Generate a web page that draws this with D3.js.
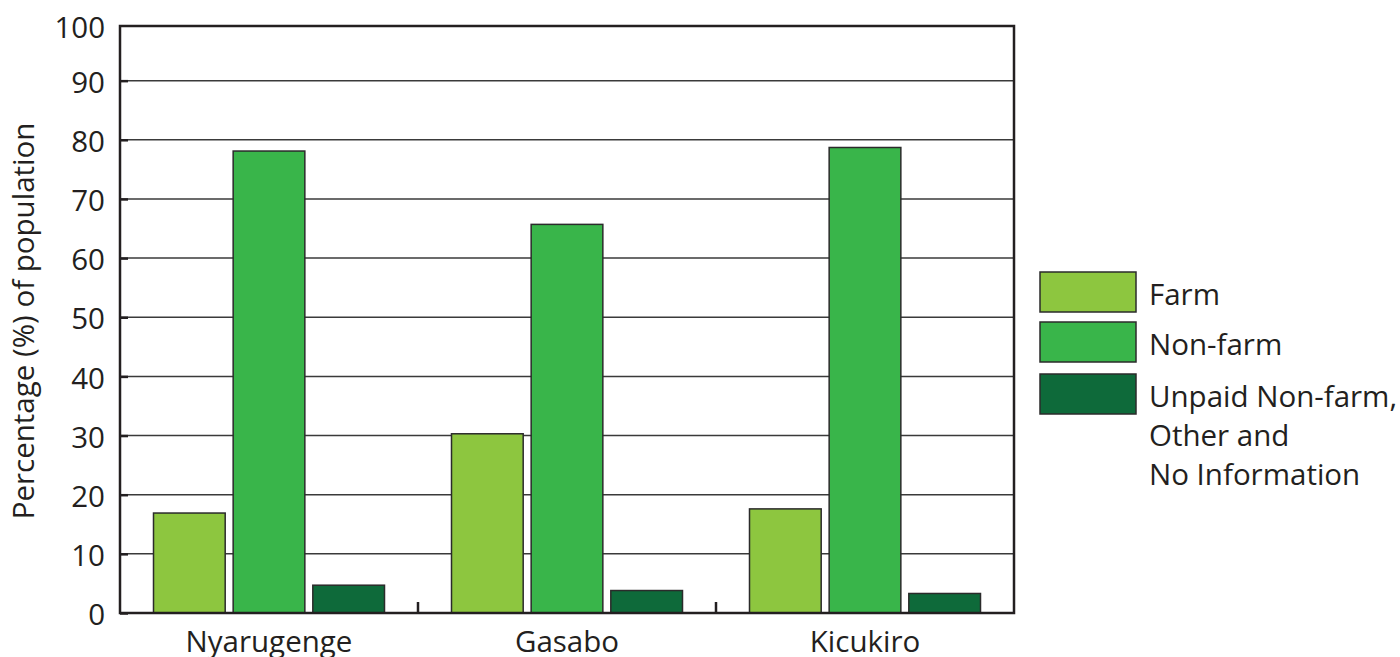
<!DOCTYPE html>
<html><head><meta charset="utf-8">
<script src="https://cdn.jsdelivr.net/npm/d3@7"></script>
<style>body{margin:0;background:#fff}svg{display:block}text{font-family:"Open Sans",sans-serif;fill:#231f20}</style>
</head><body><svg id="c" width="1400" height="657"></svg>
<script>
const categories = ["Nyarugenge", "Gasabo", "Kicukiro"];
const seriesNames = ["Farm", "Non-farm", "Unpaid Non-farm, Other and No Information"];
const legendLines = [["Farm"], ["Non-farm"], ["Unpaid Non-farm,", "Other and", "No Information"]];
const farm = [16.9, 30.3, 17.6];
const nonFarm = [78.1, 65.7, 78.7];
const unpaid = [4.7, 3.8, 3.3];
const yTicks = [0, 10, 20, 30, 40, 50, 60, 70, 80, 90, 100];
const colors = ["#8dc63f", "#39b54a", "#0e6a3a"];

const svg = d3.select("#c");
const L = 120, R = 1014, T = 26, B = 613;
const FS = 29.5;
const x = d3.scaleBand().domain(categories).range([L, R]);
const xs = d3.scaleBand().domain(seriesNames).range([0, 231]).paddingInner(0.1);
const y = d3.scaleLinear().domain([0, 100]).range([B, 21.5]);
const data = [farm, nonFarm, unpaid];

// gridlines
svg.append("g").selectAll("line").data(yTicks.filter(d => d > 0 && d < 100)).join("line")
  .attr("x1", L).attr("x2", R).attr("y1", d => y(d)).attr("y2", d => y(d))
  .attr("stroke", "#3a3a3a").attr("stroke-width", 1.5);

// bars
categories.forEach((c, i) => {
  const x0 = x(c) + (x.bandwidth() - 231) / 2;
  seriesNames.forEach((s, j) => {
    svg.append("rect")
      .attr("x", x0 + xs(s)).attr("width", xs.bandwidth())
      .attr("y", y(data[j][i])).attr("height", B - y(data[j][i]))
      .attr("fill", colors[j]).attr("stroke", "#2b2b2b").attr("stroke-width", 1.5);
  });
});

// frame
svg.append("rect").attr("x", L).attr("y", T).attr("width", R - L).attr("height", B - T)
  .attr("fill", "none").attr("stroke", "#231f20").attr("stroke-width", 2.5);

// y axis ticks
const ya = svg.append("g").attr("transform", `translate(${L},0)`)
  .call(d3.axisRight(y).tickValues(yTicks.filter(d => d < 100)).tickSize(8).tickFormat(""));
ya.select(".domain").remove();
ya.selectAll("line").attr("stroke", "#231f20").attr("stroke-width", 2.5);
svg.append("g").selectAll("text").data(yTicks).join("text")
  .attr("x", 105).attr("y", d => Math.max(y(d), T) + 1.5).attr("dy", "0.36em").attr("text-anchor", "end")
  .attr("font-size", FS).text(d => d);

// x separators
const seps = categories.slice(1).map(c => x(c));
svg.append("g").selectAll("line").data(seps).join("line")
  .attr("x1", d => d).attr("x2", d => d).attr("y1", B).attr("y2", B - 11)
  .attr("stroke", "#231f20").attr("stroke-width", 2.5);
svg.append("g").selectAll("text").data(categories).join("text")
  .attr("x", d => x(d) + x.bandwidth() / 2).attr("y", 652).attr("text-anchor", "middle")
  .attr("font-size", FS).text(d => d);

// y title
svg.append("text").attr("transform", "translate(34,321) rotate(-90)").attr("text-anchor", "middle")
  .attr("font-size", FS).text("Percentage (%) of population");

// legend
const ly = [272, 322, 374];
seriesNames.forEach((s, j) => {
  svg.append("rect").attr("x", 1040).attr("y", ly[j]).attr("width", 96).attr("height", 40)
    .attr("fill", colors[j]).attr("stroke", "#2b2b2b").attr("stroke-width", 1.5);
  legendLines[j].forEach((t, k) => {
    svg.append("text").attr("x", 1149).attr("y", ly[j] + 33 + k * 39).attr("font-size", FS).text(t);
  });
});
</script></body></html>
